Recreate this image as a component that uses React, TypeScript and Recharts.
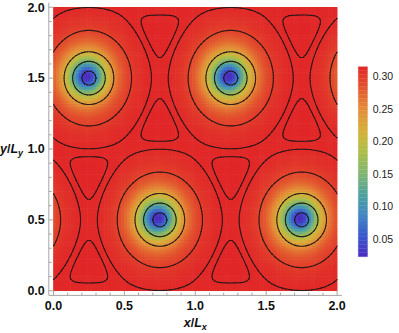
import React from "react";
import { ScatterChart, Scatter, XAxis, YAxis, ComposedChart, ReferenceArea } from "recharts";

// wells: one per row of the lattice, repeated by the periods
const wellX = [0.25, 0.75];
const wellY = [1.5, 0.5];
const periodX = 1;
const periodY = 2;

// shape of one well
const coreRadius = 0.19;
const tailStretch = 0.32;

// where each ring crosses y = 1.5 to the right of the well at x = 0.25
const ringCrossX = [0.3, 0.365, 0.425, 0.55, 0.69];
// tip of the small triangle between three wells
const triangleTip = [0.75, 1.357];

// colour scale
const valueMin = 0.0227;
const valueMax = 0.3154;
const barTicks = [0.05, 0.1, 0.15, 0.2, 0.25, 0.3];
const colorAt = [0, 0.1, 0.22, 0.32, 0.43, 0.55, 0.65, 0.78, 0.9, 1];
const colorRgb = [
  [75, 45, 190],
  [60, 85, 205],
  [65, 135, 195],
  [75, 160, 160],
  [125, 180, 115],
  [170, 190, 75],
  [210, 180, 60],
  [228, 140, 55],
  [226, 80, 45],
  [225, 38, 40],
];

const axisTicks = Array.from({ length: 21 }, (_, i) => i / 10);

// layout
const W = 399;
const H = 333;
const PLOT_LEFT = 48.8;
const PLOT_RIGHT = 341.8;
const PLOT_TOP = 2.6;
const PLOT_BOTTOM = 295.4;
const DOMAIN: [number, number] = [-0.033, 2.033];
const KX = (PLOT_RIGHT - PLOT_LEFT) / (DOMAIN[1] - DOMAIN[0]);
const KY = (PLOT_BOTTOM - PLOT_TOP) / (DOMAIN[1] - DOMAIN[0]);
const BAR = { left: 358.3, right: 367.5, top: 66.7, bottom: 256.7 };
const FRAME = "#a6a6a6";
const FONT = "'Liberation Sans', Arial, sans-serif";
const LIGHT = 0.02;

const N = 100;
const STEP = 2 / N;

function rawField(x: number, y: number) {
  let s = 0;
  for (let i = 0; i < wellX.length; i++) {
    for (let n = -4; n <= 5; n++) {
      const dx = x - wellX[i] - n * periodX;
      for (let m = -3; m <= 3; m++) {
        const dy = y - wellY[i] - m * periodY;
        const r2 = dx * dx + dy * dy;
        const k2 = 1 - (tailStretch * r2) / (r2 + 0.06);
        const q = (dx * dx + k2 * dy * dy) / (coreRadius * coreRadius);
        s += 1 / ((1 + q) * (1 + q));
      }
    }
  }
  return -s;
}

const raw: number[][] = [];
for (let j = 0; j <= N; j++) {
  const row: number[] = [];
  for (let i = 0; i <= N; i++) row.push(rawField(i * STEP, j * STEP));
  raw.push(row);
}
let lo = Infinity;
let hi = -Infinity;
raw.forEach((row) => row.forEach((v) => { lo = Math.min(lo, v); hi = Math.max(hi, v); }));
const norm = (r: number) => valueMin + ((r - lo) / (hi - lo)) * (valueMax - valueMin);
const V = raw.map((row) => row.map(norm));
const levels = [
  ...ringCrossX.map((x) => norm(rawField(x, 1.5))),
  norm(rawField(triangleTip[0], triangleTip[1])),
];

function colorFor(v: number) {
  const t = Math.min(1, Math.max(0, (v - valueMin) / (valueMax - valueMin)));
  let k = 0;
  while (k < colorAt.length - 2 && t > colorAt[k + 1]) k++;
  const f = (t - colorAt[k]) / (colorAt[k + 1] - colorAt[k]);
  const c = colorRgb[k].map((a, i) => Math.round(a + (colorRgb[k + 1][i] - a) * f));
  return `rgb(${c[0]},${c[1]},${c[2]})`;
}

type Seg = [number, number, number, number];
const heatCells: { x: number; y: number; color: string }[] = [];
const contourCells: { x: number; y: number; segs: Seg[] }[] = [];

for (let j = 0; j < N; j++) {
  for (let i = 0; i < N; i++) {
    const x0 = i * STEP;
    const y0 = j * STEP;
    const v0 = V[j][i];
    const v1 = V[j][i + 1];
    const v2 = V[j + 1][i + 1];
    const v3 = V[j + 1][i];
    const cx = x0 + STEP / 2;
    const cy = y0 + STEP / 2;
    const v = (v0 + v1 + v2 + v3) / 4;
    const gx = (v1 + v2 - v0 - v3) / (2 * STEP);
    const gy = (v2 + v3 - v0 - v1) / (2 * STEP);
    heatCells.push({ x: cx, y: cy, color: colorFor(v + (LIGHT * (gx - gy)) / Math.SQRT2) });

    const segs: Seg[] = [];
    for (const L of levels) {
      const pt = (e: number): [number, number] => {
        if (e === 0) return [x0 + ((L - v0) / (v1 - v0)) * STEP, y0];
        if (e === 1) return [x0 + STEP, y0 + ((L - v1) / (v2 - v1)) * STEP];
        if (e === 2) return [x0 + ((L - v3) / (v2 - v3)) * STEP, y0 + STEP];
        return [x0, y0 + ((L - v0) / (v3 - v0)) * STEP];
      };
      const a0 = v0 > L, a1 = v1 > L, a2 = v2 > L, a3 = v3 > L;
      const edges: number[] = [];
      if (a0 !== a1) edges.push(0);
      if (a1 !== a2) edges.push(1);
      if (a3 !== a2) edges.push(2);
      if (a0 !== a3) edges.push(3);
      const pairs: [number, number][] = [];
      if (edges.length === 2) pairs.push([edges[0], edges[1]]);
      else if (edges.length === 4) {
        if (a0 === v > L) pairs.push([0, 1], [2, 3]);
        else pairs.push([0, 3], [1, 2]);
      }
      pairs.forEach(([e1, e2]) => {
        const p = pt(e1);
        const q = pt(e2);
        segs.push([p[0], p[1], q[0], q[1]]);
      });
    }
    if (segs.length) contourCells.push({ x: cx, y: cy, segs });
  }
}

const bandCount = 48;
const bands = Array.from({ length: bandCount }, (_, b) => {
  const y1 = valueMin + ((valueMax - valueMin) * b) / bandCount;
  const y2 = valueMin + ((valueMax - valueMin) * (b + 1)) / bandCount;
  return { y1, y2, color: colorFor((y1 + y2) / 2) };
});

const renderHeat = (p: any) => {
  if (p.cx == null) return <g />;
  const w = STEP * KX;
  const h = STEP * KY;
  return (
    <rect x={p.cx - w / 2 - 0.3} y={p.cy - h / 2 - 0.3} width={w + 0.6} height={h + 0.6} fill={p.payload.color} />
  );
};

const renderContour = (p: any) => {
  if (p.cx == null) return <g />;
  const c = p.payload;
  const d = c.segs
    .map(
      ([x1, y1, x2, y2]: Seg) =>
        `M${(p.cx + (x1 - c.x) * KX).toFixed(2)},${(p.cy - (y1 - c.y) * KY).toFixed(2)}L${(p.cx + (x2 - c.x) * KX).toFixed(2)},${(p.cy - (y2 - c.y) * KY).toFixed(2)}`
    )
    .join("");
  return <path d={d} stroke="#1f1616" strokeOpacity={0.88} strokeWidth={1.1} fill="none" strokeLinecap="round" />;
};

const isMajor = (v: number) => Math.abs(v * 2 - Math.round(v * 2)) < 1e-6;

function FrameTick(props: any) {
  const { x, y, payload, side } = props;
  const v = payload.value;
  const len = isMajor(v) ? 4.5 : 2.8;
  const label = v.toFixed(1);
  if (side === "bottom")
    return (
      <g>
        <line x1={x} x2={x} y1={y} y2={y - len} stroke={FRAME} />
        {isMajor(v) && (
          <text x={x} y={y + 14.2} textAnchor="middle" fontSize={12.5} fontWeight="bold" fontFamily={FONT} fill="#111">
            {label}
          </text>
        )}
      </g>
    );
  if (side === "left")
    return (
      <g>
        <line x1={x} x2={x + len} y1={y} y2={y} stroke={FRAME} />
        {isMajor(v) && (
          <text x={x - 4} y={y + 4.3} textAnchor="end" fontSize={12.5} fontWeight="bold" fontFamily={FONT} fill="#111">
            {label}
          </text>
        )}
      </g>
    );
  if (side === "top") return <line x1={x} x2={x} y1={y} y2={y + len} stroke={FRAME} />;
  return <line x1={x} x2={x - len} y1={y} y2={y} stroke={FRAME} />;
}

function BarTick(props: any) {
  const { x, y, payload } = props;
  return (
    <text x={x + 5.2} y={y + 3.7} fontSize={10.5} fontFamily={FONT} fill="#222">
      {payload.value.toFixed(2)}
    </text>
  );
}

const YTitle = () => (
  <text x={0} y={153} fontSize={12.5} fontWeight="bold" fontFamily={FONT} fill="#111">
    <tspan fontStyle="italic">y</tspan>
    <tspan>/</tspan>
    <tspan fontStyle="italic">L</tspan>
    <tspan fontStyle="italic" fontSize={9} dy={3}>y</tspan>
  </text>
);

const XTitle = () => (
  <text x={(PLOT_LEFT + PLOT_RIGHT) / 2} y={327} textAnchor="middle" fontSize={12.5} fontWeight="bold" fontFamily={FONT} fill="#111">
    <tspan fontStyle="italic">x</tspan>
    <tspan>/</tspan>
    <tspan fontStyle="italic">L</tspan>
    <tspan fontStyle="italic" fontSize={9} dy={3}>x</tspan>
  </text>
);

export default function App() {
  return (
    <div style={{ position: "absolute", left: 0, top: 0, width: W, height: H, background: "#fff" }}>
      <ScatterChart
        width={W}
        height={H}
        margin={{ top: PLOT_TOP, right: W - PLOT_RIGHT, bottom: 0, left: 0 }}
      >
        <XAxis
          type="number"
          dataKey="x"
          domain={DOMAIN}
          ticks={axisTicks}
          interval={0}
          tickSize={0}
          tickMargin={0}
          tickLine={false}
          height={H - PLOT_BOTTOM}
          axisLine={{ stroke: FRAME }}
          tick={<FrameTick side="bottom" />}
          label={<XTitle />}
          allowDataOverflow
        />
        <XAxis
          xAxisId="top"
          orientation="top"
          type="number"
          domain={DOMAIN}
          ticks={axisTicks}
          interval={0}
          tickSize={0}
          tickMargin={0}
          tickLine={false}
          height={0}
          axisLine={{ stroke: FRAME }}
          tick={<FrameTick side="top" />}
          allowDataOverflow
        />
        <YAxis
          type="number"
          dataKey="y"
          domain={DOMAIN}
          ticks={axisTicks}
          interval={0}
          tickSize={0}
          tickMargin={0}
          tickLine={false}
          width={PLOT_LEFT}
          axisLine={{ stroke: FRAME }}
          tick={<FrameTick side="left" />}
          label={<YTitle />}
          allowDataOverflow
        />
        <YAxis
          yAxisId="right"
          orientation="right"
          type="number"
          domain={DOMAIN}
          ticks={axisTicks}
          interval={0}
          tickSize={0}
          tickMargin={0}
          tickLine={false}
          width={0}
          axisLine={{ stroke: FRAME }}
          tick={<FrameTick side="right" />}
          allowDataOverflow
        />
        <Scatter data={heatCells} shape={renderHeat} isAnimationActive={false} />
        <Scatter data={contourCells} shape={renderContour} isAnimationActive={false} />
      </ScatterChart>

      <div style={{ position: "absolute", left: 0, top: 0 }}>
        <ComposedChart
          width={W}
          height={H}
          data={[{ x: 0 }, { x: 1 }]}
          margin={{ top: BAR.top, right: 0, bottom: H - BAR.bottom, left: BAR.left }}
        >
          <XAxis type="number" dataKey="x" domain={[0, 1]} hide />
          <YAxis
            orientation="right"
            type="number"
            domain={[valueMin, valueMax]}
            ticks={barTicks}
            interval={0}
            width={W - BAR.right}
            tickSize={0}
            tickMargin={0}
            tickLine={false}
            axisLine={false}
            tick={<BarTick />}
            allowDataOverflow
          />
          {bands.map((b, k) => (
            <ReferenceArea
              key={k}
              x1={0}
              x2={1}
              y1={b.y1}
              y2={b.y2}
              fill={b.color}
              fillOpacity={1}
              stroke={b.color}
              strokeWidth={0.3}
              ifOverflow="visible"
            />
          ))}
        </ComposedChart>
      </div>
    </div>
  );
}
